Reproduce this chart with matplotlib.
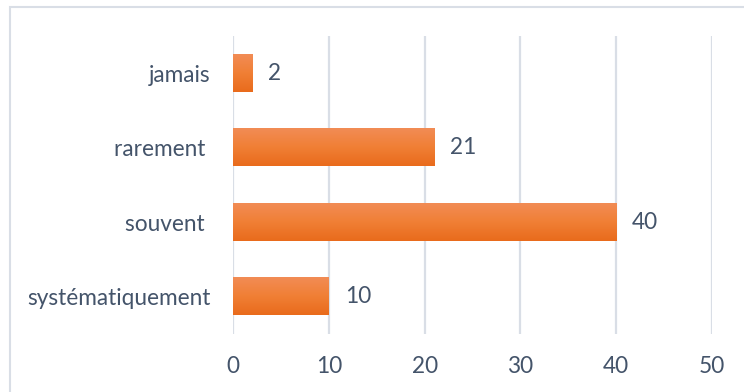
import matplotlib
matplotlib.use("Agg")
import matplotlib.pyplot as plt
import numpy as np
from matplotlib.patches import Rectangle
from matplotlib.colors import LinearSegmentedColormap

categories = ["systématiquement", "souvent ", "rarement ", "jamais"]
values = [10, 40, 21, 2]
xticks = [0, 10, 20, 30, 40, 50]

plt.rcParams['font.family'] = ['Lato', 'DejaVu Sans']
txt = '#44546A'
fs = 16.3

fig = plt.figure(figsize=(7.44, 3.92), dpi=100)
ax = fig.add_axes([233/744, 1-334/392, (712-233)/744, (334-36)/392])

# figure border (right and bottom edges lie outside the image)
fig.patches.append(Rectangle((10/744, -1), 2, 2-7/392, transform=fig.transFigure,
                             fill=False, edgecolor='#D9DEE6', lw=1.5, zorder=0))

y = np.arange(len(categories))
bars = ax.barh(y, values, height=0.5, color='none', zorder=3)
grad = np.linspace(0, 1, 100).reshape(-1, 1)
cmap = LinearSegmentedColormap.from_list('g', ['#E96B1C', '#F07F35', '#F28C55'])
for b in bars:
    x0, y0 = b.get_x(), b.get_y()
    w, h = b.get_width(), b.get_height()
    ax.imshow(grad, cmap=cmap, aspect='auto', extent=(x0, x0 + w, y0, y0 + h),
              origin='lower', zorder=3)

for v, yy in zip(values, y):
    ax.annotate(str(v), (v, yy), xytext=(11.5, 0), textcoords='offset points',
                va='center', ha='left', fontsize=fs, color=txt)

ax.set_xlim(0, 50)
ax.set_ylim(-0.5, len(categories) - 0.5)
ax.set_xticks(xticks)
ax.set_xticklabels([str(t) for t in xticks])
ax.set_yticks(y)
ax.set_yticklabels(categories)
ax.tick_params(axis='both', length=0, labelsize=fs, labelcolor=txt)
ax.tick_params(axis='x', pad=16)
ax.tick_params(axis='y', pad=16)
ax.grid(axis='x', color='#D9DEE6', lw=1.6, zorder=0)
ax.set_axisbelow(True)
for s in ax.spines.values():
    s.set_visible(False)

fig.savefig("out.png", dpi=100)
